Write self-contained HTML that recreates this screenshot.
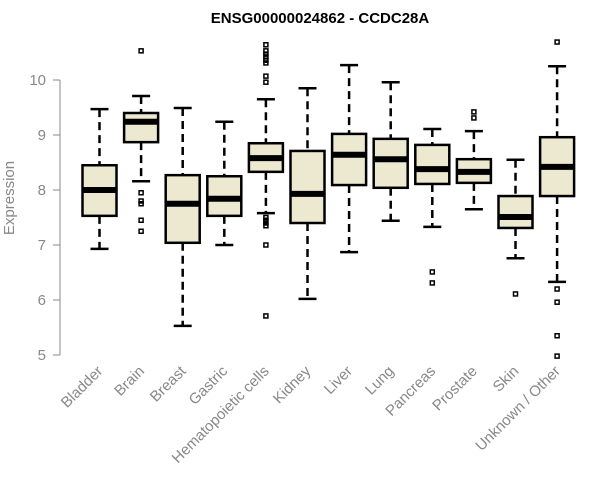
<!DOCTYPE html>
<html><head><meta charset="utf-8"><style>body{margin:0;background:#fff}svg{display:block}</style></head>
<body>
<svg id="chart" width="600" height="500" xmlns="http://www.w3.org/2000/svg" font-family="Liberation Sans, sans-serif">
<text x="320" y="23" text-anchor="middle" font-weight="bold" font-size="15">ENSG00000024862 - CCDC28A</text>
<text transform="translate(14,198) rotate(-90)" text-anchor="middle" font-size="15" fill="#888">Expression</text>
<g id="axis"></g><g id="boxes"></g><g id="xlabels"></g>
</svg>
<script>
const categories=["Bladder","Brain","Breast","Gastric","Hematopoietic cells","Kidney","Liver","Lung","Pancreas","Prostate","Skin","Unknown / Other"];
const whiskerLow=[6.93,8.16,5.53,7.0,7.58,6.02,6.87,7.44,7.33,7.65,6.76,6.33];
const q1=[7.53,8.87,7.04,7.53,8.33,7.4,8.09,8.04,8.11,8.13,7.31,7.89];
const medians=[8.0,9.24,7.75,7.84,8.58,7.93,8.64,8.56,8.38,8.33,7.51,8.42];
const q3=[8.45,9.4,8.27,8.25,8.85,8.71,9.02,8.93,8.82,8.56,7.89,8.96];
const whiskerHigh=[9.47,9.71,9.49,9.24,9.65,9.85,10.27,9.96,9.11,9.07,8.55,10.25];
const outliers=[[],[10.53,7.95,7.8,7.75,7.45,7.25],[],[],[10.64,10.53,10.47,10.42,10.36,10.31,10.07,9.96,7.5,7.45,7.4,7.35,7.0,5.71],[],[],[],[6.51,6.31],[9.42,9.31],[6.11],[10.69,6.2,5.96,5.35,4.98]];
const yTicks=[5,6,7,8,9,10];
const NS="http://www.w3.org/2000/svg";
const y=v=>355-(v-5)*55;
const x=i=>99.5+i*41.6;
function mk(tag,attrs,parent){const e=document.createElementNS(NS,tag);for(const k in attrs)e.setAttribute(k,attrs[k]);parent.appendChild(e);return e;}
const ax=document.getElementById('axis');
const al=mk('line',{x1:60,x2:60,y1:y(10),y2:y(5),stroke:'#888','stroke-width':1},ax);


yTicks.forEach(t=>{
  const tk=mk('line',{x1:53,x2:60,y1:y(t),y2:y(t),stroke:'#888'},ax);
  
  
  const tl=mk('text',{x:46,y:y(t)+5,'text-anchor':'end','font-size':15,fill:'#888'},ax);
  tl.textContent=t;
  
  
});
const bx=document.getElementById('boxes'),xl=document.getElementById('xlabels');
const hw=17,cw=9;
categories.forEach((c,i)=>{
  const g=mk('g',{},bx);
  
  
  const cx=x(i);
  mk('line',{x1:cx,x2:cx,y1:y(whiskerHigh[i]),y2:y(q3[i]),stroke:'#000','stroke-width':2.5,'stroke-dasharray':'8,5'},g);
  mk('line',{x1:cx,x2:cx,y1:y(q1[i]),y2:y(whiskerLow[i]),stroke:'#000','stroke-width':2.5,'stroke-dasharray':'8,5'},g);
  mk('line',{x1:cx-cw,x2:cx+cw,y1:y(whiskerHigh[i]),y2:y(whiskerHigh[i]),stroke:'#000','stroke-width':2.5},g);
  mk('line',{x1:cx-cw,x2:cx+cw,y1:y(whiskerLow[i]),y2:y(whiskerLow[i]),stroke:'#000','stroke-width':2.5},g);
  mk('rect',{x:cx-hw,y:y(q3[i]),width:2*hw,height:y(q1[i])-y(q3[i]),fill:'#ede8d0',stroke:'#000','stroke-width':2.5},g);
  mk('line',{x1:cx-hw,x2:cx+hw,y1:y(medians[i]),y2:y(medians[i]),stroke:'#000','stroke-width':6},g);
  outliers[i].forEach(o=>{mk('rect',{x:cx-2,y:y(o)-2,width:4,height:4,fill:'none',stroke:'#000','stroke-width':1.5},g);});
  const t=mk('text',{transform:`translate(${cx+4},${372}) rotate(-45)`,'text-anchor':'end','font-size':15,fill:'#888'},xl);
  t.textContent=c;
  
  
});
</script>
</body></html>
